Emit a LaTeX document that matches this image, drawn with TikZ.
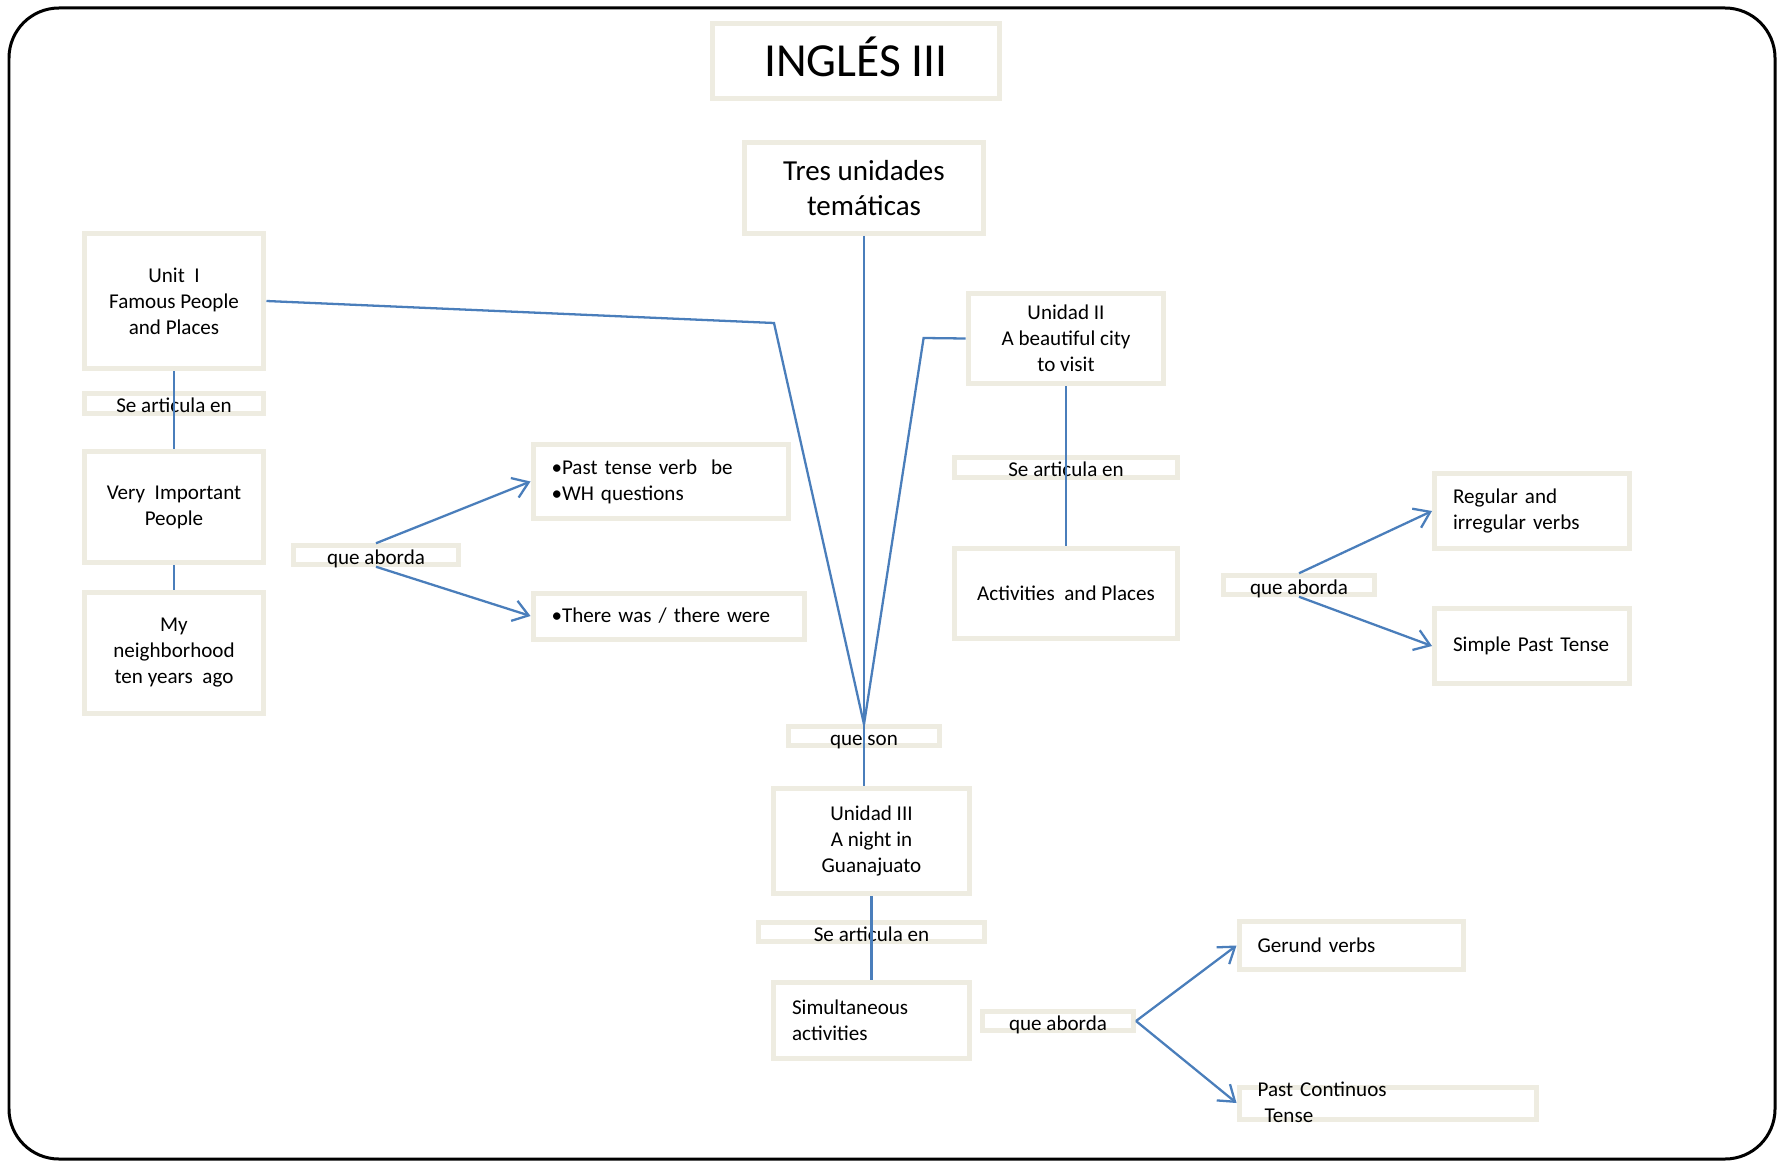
\documentclass[tikz,border=0pt]{standalone}
\usepackage{fontspec}
\setmainfont{Carlito}
\usetikzlibrary{arrows.meta}
\definecolor{boxline}{RGB}{238,236,225}
\definecolor{linkblue}{RGB}{74,126,187}

\begin{document}
\begin{tikzpicture}[x=0.02cm, y=-0.02cm]
    \tikzstyle{node_style} = [rectangle, draw=boxline, line width=0.1cm, inner sep=0pt, align=center, font=\fontsize{12}{14.8}\selectfont]
    \tikzstyle{node_left} = [node_style, align=left, inner xsep=0.37cm]
    \tikzstyle{node_small} = [node_style, minimum height=0.36cm, text height=0.37cm, text depth=-0.02cm]
    \tikzstyle{edge_style} = [draw=linkblue, line width=1.3pt]
    \tikzstyle{arrow_style} = [edge_style, -{Straight Barb[length=0.3cm, width=0.42cm]}]

    \useasboundingbox (0,0) rectangle (1777,1162);
    \draw[line width=0.06cm, rounded corners=1cm] (9,8) rectangle (1775,1159);

    \node[node_style, minimum width=5.74cm, minimum height=1.52cm, text height=0.61cm, text depth=0cm, font=\fontsize{27}{32}\selectfont] (title) at (856,61) {INGLÉS III};
    \node[node_style, minimum width=4.8cm, minimum height=1.82cm, font=\fontsize{16.5}{20}\selectfont] (tres) at (864,188) {Tres unidades\\temáticas};

    \node[node_style, minimum width=3.6cm, minimum height=2.72cm] (unit1) at (174,301) {Unit\ \ I\\Famous People\\and Places};
    \node[node_small, minimum width=3.6cm, minimum height=0.4cm] (sa1) at (174,403.5) {Se articula en};
    \node[node_style, minimum width=3.6cm, minimum height=2.24cm] (vip) at (174,507) {Very\ \ Important\\People};
    \node[node_style, minimum width=3.6cm, minimum height=2.42cm] (neigh) at (174,653) {My\\neighborhood\\ten years\ \ ago};
    \node[node_small, minimum width=3.3cm] (qa1) at (376,555) {que aborda};
    \node[node_left, text width=4.38cm, minimum height=1.5cm] (past) at (661,481.5) {•Past tense verb\ \ be\\•WH questions};
    \node[node_left, text width=4.7cm, minimum height=0.92cm] (there) at (669,616) {•There was / there were};

    \node[node_style, minimum width=3.92cm, minimum height=1.82cm] (unit2) at (1066,338.5) {Unidad II\\A beautiful city\\to visit};
    \node[node_small, minimum width=4.48cm, minimum height=0.4cm] (sa2) at (1066,467) {Se articula en};
    \node[node_style, minimum width=4.48cm, minimum height=1.82cm] (activ) at (1066,593.5) {Activities\ \ and Places};
    \node[node_small, minimum width=3.02cm, minimum height=0.34cm] (qa2) at (1299,585) {que aborda};
    \node[node_left, text width=3.16cm, minimum height=1.52cm] (regular) at (1532,511) {Regular and\\irregular verbs};
    \node[node_left, text width=3.16cm, minimum height=1.5cm] (simple) at (1532,646) {Simple Past Tense};

    \node[node_small, minimum width=3.02cm, minimum height=0.34cm] (queson) at (864,736) {que son};
    \node[node_style, minimum width=3.94cm, minimum height=2.1cm] (unit3) at (871.5,841) {Unidad III\\A night in\\Guanajuato};
    \node[node_small, minimum width=4.54cm, minimum height=0.38cm] (sa3) at (871.5,932) {Se articula en};
    \node[node_left, text width=3.18cm, minimum height=1.52cm] (simul) at (871.5,1020.5) {Simultaneous\\activities};
    \node[node_small, minimum width=3.02cm] (qa3) at (1058,1021) {que aborda};
    \node[node_left, text width=3.74cm, minimum height=0.96cm] (gerund) at (1351,945.5) {Gerund verbs};
    \node[node_left, text width=5.22cm, minimum height=0.64cm, text height=0.04cm, text depth=0.3cm] (pastcont) at (1388,1103) {Past Continuos\\\ Tense};

    \coordinate (bend1) at (774,323);
    \coordinate (bend2) at (923.6,338);

    \draw[edge_style] (tres.south) -- (tres.south |- unit3.north);
    \draw[edge_style] (unit1.east) -- (bend1) -- (queson.north);
    \draw[edge_style] (unit2.west) -- (bend2) -- (queson.north);
    \draw[edge_style] (unit1.south) -- (vip.north);
    \draw[edge_style] (vip.south) -- (neigh.north);
    \draw[edge_style] (unit2.south) -- (activ.north);
    \draw[edge_style] (unit3.south) -- (simul.north);

    \draw[arrow_style] (qa1.north) -- (past.west);
    \draw[arrow_style] (qa1.south) -- (there.west);
    \draw[arrow_style] (qa2.north) -- (regular.west);
    \draw[arrow_style] (qa2.south) -- (simple.west);
    \draw[arrow_style] (qa3.east) -- (gerund.west);
    \draw[arrow_style] (qa3.east) -- (pastcont.west);
\end{tikzpicture}
\end{document}
